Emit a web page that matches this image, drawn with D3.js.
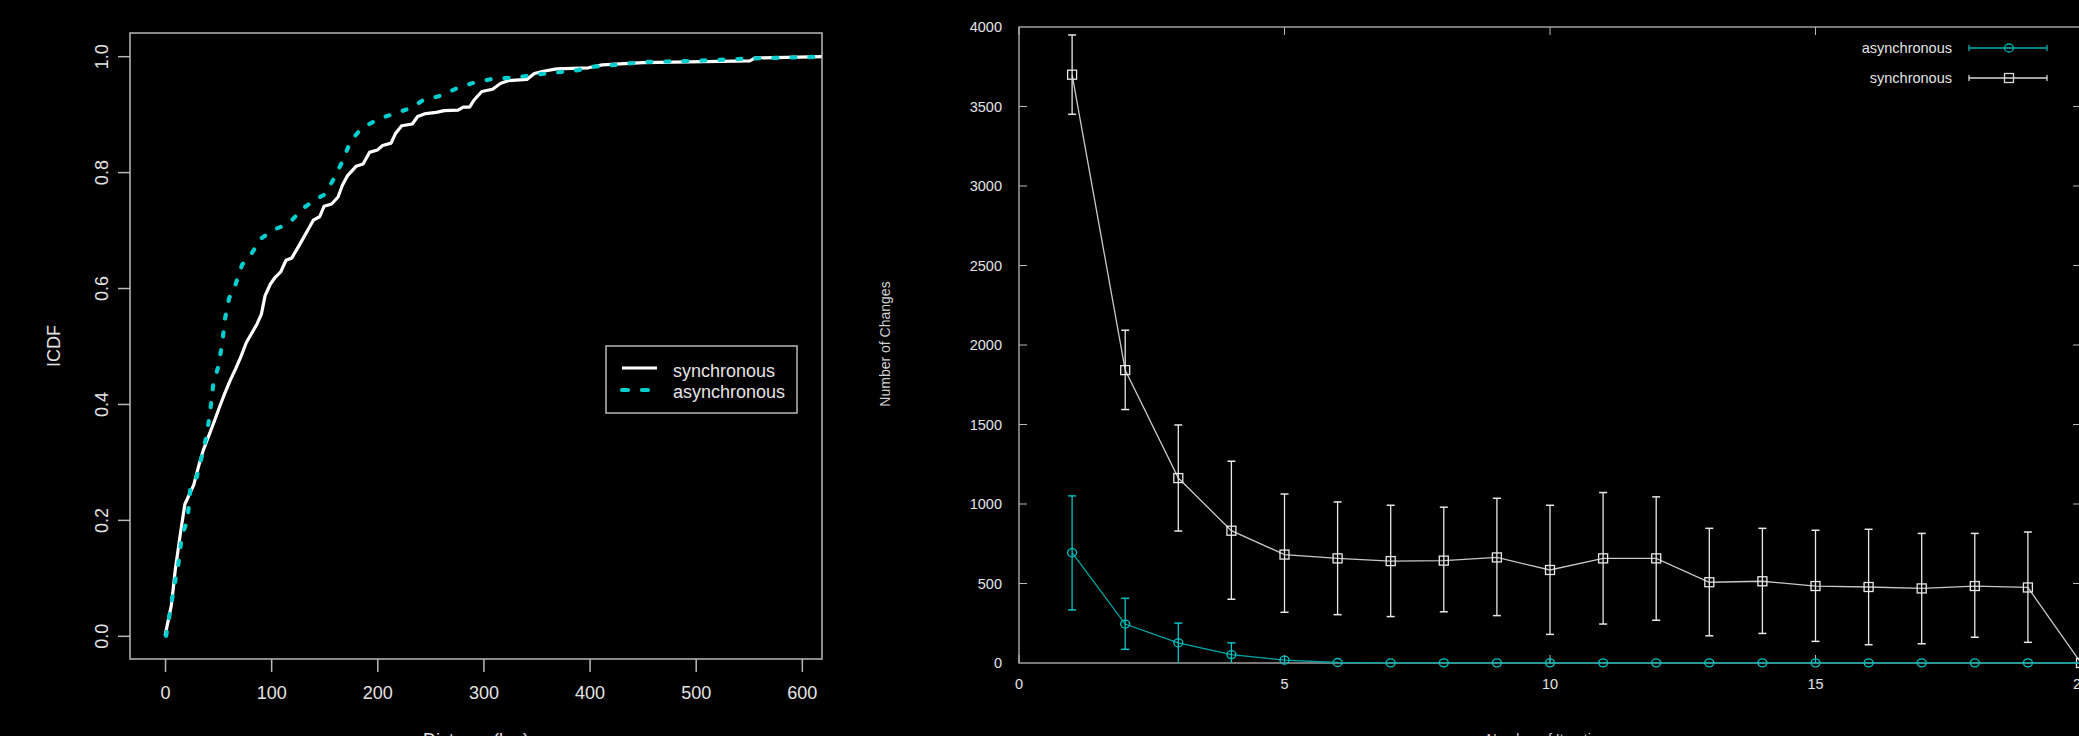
<!DOCTYPE html>
<html>
<head>
<meta charset="utf-8">
<script src="https://d3js.org/d3.v7.min.js"></script>
<style>
  html, body { margin: 0; padding: 0; background: #000; overflow: hidden; }
  svg { display: block; }
  text { font-family: "Liberation Sans", Arial, sans-serif; }
</style>
</head>
<body>
<svg id="viz" width="2079" height="736"></svg>
<script>
// ---- left chart: ICDF of distance ----
var syncX = [0, 6, 9.6, 14.6, 18.7, 23.7, 27, 32, 36, 41, 46, 51, 56, 61.5, 66.6, 71.6, 76.6, 81.7, 86.7, 90.8, 94.3, 99.3, 104, 109, 114, 119.5, 124.6, 129.6, 134.6, 139.7, 145.7, 149.8, 157, 163, 167, 172, 180, 186.6, 192.6, 200, 205, 213, 217, 223, 233, 238, 245.6, 255.7, 263, 276, 281, 287, 291, 298.5, 308.6, 316, 323.7, 341, 348, 356.5, 369, 399, 412, 450, 551, 556, 640];
var syncY = [0, 0.053, 0.113, 0.178, 0.227, 0.247, 0.26, 0.295, 0.32, 0.344, 0.368, 0.393, 0.417, 0.441, 0.461, 0.482, 0.506, 0.522, 0.538, 0.555, 0.587, 0.607, 0.619, 0.628, 0.648, 0.652, 0.668, 0.684, 0.70, 0.717, 0.723, 0.741, 0.745, 0.757, 0.777, 0.794, 0.81, 0.814, 0.834, 0.838, 0.846, 0.85, 0.866, 0.88, 0.883, 0.896, 0.901, 0.903, 0.906, 0.907, 0.912, 0.912, 0.924, 0.939, 0.943, 0.953, 0.958, 0.96, 0.97, 0.974, 0.978, 0.98, 0.985, 0.989, 0.992, 0.997, 1.0];
var asyncX = [1, 5, 8.6, 12.6, 16, 21, 23.7, 30, 35, 39, 42.4, 45.4, 50.4, 54, 56.5, 60.5, 66.6, 72.6, 81.7, 90.8, 102, 112, 119.5, 129.6, 142, 150, 158, 167, 175, 182.5, 192.6, 202.7, 220, 233, 243, 258, 273, 288.5, 308.6, 328.8, 349, 369, 389, 404, 424.6, 450, 500, 551, 640];
var asyncY = [0, 0.045, 0.085, 0.125, 0.174, 0.198, 0.251, 0.275, 0.312, 0.344, 0.385, 0.433, 0.466, 0.506, 0.547, 0.583, 0.607, 0.64, 0.66, 0.686, 0.70, 0.708, 0.717, 0.737, 0.753, 0.761, 0.785, 0.818, 0.854, 0.87, 0.883, 0.893, 0.903, 0.912, 0.924, 0.931, 0.943, 0.953, 0.961, 0.963, 0.968, 0.972, 0.976, 0.982, 0.985, 0.99, 0.992, 0.996, 1.0];
var distTicks = [0, 100, 200, 300, 400, 500, 600];
var icdfTicks = [0, 0.2, 0.4, 0.6, 0.8, 1.0];

// ---- right chart: number of changes per iteration ----
var iters = [1, 2, 3, 4, 5, 6, 7, 8, 9, 10, 11, 12, 13, 14, 15, 16, 17, 18, 19, 20];
var syncMean = [3700, 1842, 1163, 832, 682, 658, 641, 644, 664, 585, 658, 658, 508, 514, 484, 478, 469, 484, 475, 0];
var syncHi = [3950, 2093, 1497, 1269, 1063, 1013, 992, 980, 1036, 992, 1072, 1045, 847, 847, 835, 841, 815, 815, 824, 0];
var syncLo = [3451, 1594, 830, 401, 319, 304, 292, 322, 298, 180, 245, 269, 171, 186, 136, 115, 121, 162, 130, 0];
var asyncMean = [694, 245, 127, 53, 18, 3, 1, 1, 1, 1, 1, 1, 1, 1, 1, 1, 1, 1, 1, 0];
var asyncHi = [1051, 407, 251, 127, 38, 5, 2, 2, 3, 25, 3, 2, 3, 3, 25, 3, 2, 2, 2, 0];
var asyncLo = [334, 86, 0, 0, 0, 0, 0, 0, 0, 0, 0, 0, 0, 0, 0, 0, 0, 0, 0, 0];
var changeTicks = [0, 500, 1000, 1500, 2000, 2500, 3000, 3500, 4000];
var iterTicks = [0, 5, 10, 15, 20];

var svg = d3.select("#viz");
var axisCol = "#b8b8b8";
var textCol = "#e4e4e4";

// ===== left =====
var L = { left: 130, right: 822, top: 33, bottom: 659 };
var x1 = d3.scaleLinear().domain([-33, 619]).range([L.left, L.right]);
var y1 = d3.scaleLinear().domain([-0.04, 1.04]).range([L.bottom, L.top]);

svg.append("clipPath").attr("id", "clipL").append("rect")
  .attr("x", L.left).attr("y", L.top)
  .attr("width", L.right - L.left).attr("height", L.bottom - L.top);

var gl = svg.append("g");
var line1 = d3.line().x(d => x1(d[0])).y(d => y1(d[1]));

gl.append("path")
  .datum(d3.zip(syncX, syncY))
  .attr("clip-path", "url(#clipL)")
  .attr("d", line1)
  .attr("fill", "none").attr("stroke", "#ffffff").attr("stroke-width", 3.2)
  .attr("stroke-linejoin", "round");

gl.append("path")
  .datum(d3.zip(asyncX, asyncY))
  .attr("clip-path", "url(#clipL)")
  .attr("d", line1)
  .attr("fill", "none").attr("stroke", "#00cdcd").attr("stroke-width", 4.2)
  .attr("stroke-linecap", "round").attr("stroke-dasharray", "4,14");

gl.append("rect")
  .attr("x", L.left).attr("y", L.top)
  .attr("width", L.right - L.left).attr("height", L.bottom - L.top)
  .attr("fill", "none").attr("stroke", axisCol).attr("stroke-width", 1.5);

// x axis
var xa = gl.append("g").attr("transform", "translate(0," + L.bottom + ")")
  .call(d3.axisBottom(x1).tickValues(distTicks).tickSize(13).tickPadding(14).tickFormat(d3.format("d")));
xa.select(".domain").remove();
xa.selectAll("line").attr("stroke", axisCol).attr("stroke-width", 1.5);
xa.selectAll("text").attr("fill", textCol).style("font-size", "18px");

// y axis, labels rotated like R
var ya = gl.append("g").attr("transform", "translate(" + L.left + ",0)")
  .call(d3.axisLeft(y1).tickValues(icdfTicks).tickSize(12).tickFormat(d3.format(".1f")));
ya.select(".domain").remove();
ya.selectAll("line").attr("stroke", axisCol).attr("stroke-width", 1.5);
ya.selectAll("text")
  .attr("fill", textCol).style("font-size", "18px")
  .attr("x", null).attr("dy", null)
  .attr("text-anchor", "middle")
  .attr("transform", "translate(-22,0) rotate(-90)")
  .attr("y", 0).attr("dy", "0");

gl.append("text").attr("transform", "translate(60,346) rotate(-90)")
  .attr("text-anchor", "middle").attr("fill", textCol).style("font-size", "18px")
  .text("ICDF");
gl.append("text").attr("x", 476).attr("y", 746)
  .attr("text-anchor", "middle").attr("fill", textCol).style("font-size", "18px")
  .text("Distance(km)");

// legend
var lg = gl.append("g");
lg.append("rect").attr("x", 606).attr("y", 346).attr("width", 191).attr("height", 67)
  .attr("fill", "#000").attr("stroke", axisCol).attr("stroke-width", 1.5);
lg.append("line").attr("x1", 622).attr("x2", 657).attr("y1", 368).attr("y2", 368)
  .attr("stroke", "#fff").attr("stroke-width", 3.2);
lg.append("line").attr("x1", 622).attr("x2", 657).attr("y1", 390).attr("y2", 390)
  .attr("stroke", "#00cdcd").attr("stroke-width", 4.2)
  .attr("stroke-linecap", "round").attr("stroke-dasharray", "6,14");
lg.append("text").attr("x", 673).attr("y", 377).attr("fill", textCol)
  .style("font-size", "18px").text("synchronous");
lg.append("text").attr("x", 673).attr("y", 398).attr("fill", textCol)
  .style("font-size", "18px").text("asynchronous");

// ===== right =====
var R = { left: 1019, right: 2081, top: 27, bottom: 663 };
var x2 = d3.scaleLinear().domain([0, 20]).range([R.left, R.right]);
var y2 = d3.scaleLinear().domain([0, 4000]).range([R.bottom, R.top]);
var gr = svg.append("g");
var tickIn = 8;

// inward ticks on all four sides
changeTicks.forEach(function (v) {
  if (v === 0 || v === 4000) return;
  gr.append("line").attr("x1", R.left).attr("x2", R.left + tickIn)
    .attr("y1", y2(v)).attr("y2", y2(v)).attr("stroke", axisCol);
  gr.append("line").attr("x1", R.right - tickIn).attr("x2", R.right)
    .attr("y1", y2(v)).attr("y2", y2(v)).attr("stroke", axisCol);
});
iterTicks.forEach(function (v) {
  gr.append("line").attr("x1", x2(v)).attr("x2", x2(v))
    .attr("y1", R.top).attr("y2", R.top + tickIn).attr("stroke", axisCol);
  gr.append("line").attr("x1", x2(v)).attr("x2", x2(v))
    .attr("y1", R.bottom - tickIn).attr("y2", R.bottom).attr("stroke", axisCol);
});

function series(mean, hi, lo, col, lineCol, marker) {
  var g = gr.append("g");
  var pts = iters.map((d, i) => ({ x: d, m: mean[i], h: hi[i], l: lo[i] }));
  g.append("path").datum(pts)
    .attr("d", d3.line().x(d => x2(d.x)).y(d => y2(d.m)))
    .attr("fill", "none").attr("stroke", lineCol).attr("stroke-width", 1.3);
  var eb = g.selectAll(".eb").data(pts.filter(d => d.h > d.l)).join("g");
  eb.append("line").attr("x1", d => x2(d.x)).attr("x2", d => x2(d.x))
    .attr("y1", d => y2(d.h)).attr("y2", d => y2(d.l)).attr("stroke", col).attr("stroke-width", 1.3);
  eb.filter(d => d.h > 60).append("line").attr("x1", d => x2(d.x) - 4).attr("x2", d => x2(d.x) + 4)
    .attr("y1", d => y2(d.h)).attr("y2", d => y2(d.h)).attr("stroke", col).attr("stroke-width", 1.5);
  eb.filter(d => d.l > 0).append("line").attr("x1", d => x2(d.x) - 4).attr("x2", d => x2(d.x) + 4)
    .attr("y1", d => y2(d.l)).attr("y2", d => y2(d.l)).attr("stroke", col).attr("stroke-width", 1.5);
  if (marker === "circle") {
    g.selectAll(".mk").data(pts.slice(0, 19)).join("ellipse")
      .attr("cx", d => x2(d.x)).attr("cy", d => y2(d.m)).attr("rx", 4.5).attr("ry", 4)
      .attr("fill", "none").attr("stroke", col).attr("stroke-width", 1.3);
  } else {
    g.selectAll(".mk").data(pts).join("rect")
      .attr("x", d => x2(d.x) - 4.5).attr("y", d => y2(d.m) - 4.5)
      .attr("width", 9).attr("height", 9)
      .attr("fill", "none").attr("stroke", col).attr("stroke-width", 1.3);
  }
}

// border
gr.append("rect").attr("x", R.left).attr("y", R.top)
  .attr("width", R.right - R.left).attr("height", R.bottom - R.top)
  .attr("fill", "none").attr("stroke", axisCol).attr("stroke-width", 1.3);

series(syncMean, syncHi, syncLo, "#e8e8e8", "#c8c8c8", "square");
series(asyncMean, asyncHi, asyncLo, "#00c4c4", "#00a8a8", "circle");

// tick labels
gr.selectAll(".yl").data(changeTicks).join("text")
  .attr("x", 1002).attr("y", d => y2(d) + 5)
  .attr("text-anchor", "end").attr("fill", textCol).style("font-size", "14.5px")
  .text(d => d);
gr.selectAll(".xl").data(iterTicks).join("text")
  .attr("x", d => x2(d)).attr("y", 689)
  .attr("text-anchor", "middle").attr("fill", textCol).style("font-size", "14.5px")
  .text(d => d);

gr.append("text").attr("transform", "translate(890,344) rotate(-90)")
  .attr("text-anchor", "middle").attr("fill", "#d0d0d0").style("font-size", "14px")
  .text("Number of Changes");
gr.append("text").attr("x", 1550).attr("y", 744)
  .attr("text-anchor", "middle").attr("fill", "#d0d0d0").style("font-size", "14px")
  .text("Number of Iterations");

// legend
var rl = gr.append("g");
[["asynchronous", "#00b0b0", "circle", 48], ["synchronous", "#d8d8d8", "square", 78]].forEach(function (e) {
  rl.append("text").attr("x", 1952).attr("y", e[3] + 5).attr("text-anchor", "end")
    .attr("fill", textCol).style("font-size", "14.5px").text(e[0]);
  rl.append("line").attr("x1", 1969).attr("x2", 2047).attr("y1", e[3]).attr("y2", e[3])
    .attr("stroke", e[1]).attr("stroke-width", 1.3);
  rl.append("line").attr("x1", 1969).attr("x2", 1969).attr("y1", e[3] - 3).attr("y2", e[3] + 3)
    .attr("stroke", e[1]).attr("stroke-width", 1.3);
  rl.append("line").attr("x1", 2047).attr("x2", 2047).attr("y1", e[3] - 3).attr("y2", e[3] + 3)
    .attr("stroke", e[1]).attr("stroke-width", 1.3);
  if (e[2] === "circle") {
    rl.append("ellipse").attr("cx", 2009).attr("cy", e[3]).attr("rx", 4.5).attr("ry", 4)
      .attr("fill", "none").attr("stroke", e[1]).attr("stroke-width", 1.3);
  } else {
    rl.append("rect").attr("x", 2004.5).attr("y", e[3] - 4.5).attr("width", 9).attr("height", 9)
      .attr("fill", "none").attr("stroke", e[1]).attr("stroke-width", 1.3);
  }
});
</script>
</body>
</html>
